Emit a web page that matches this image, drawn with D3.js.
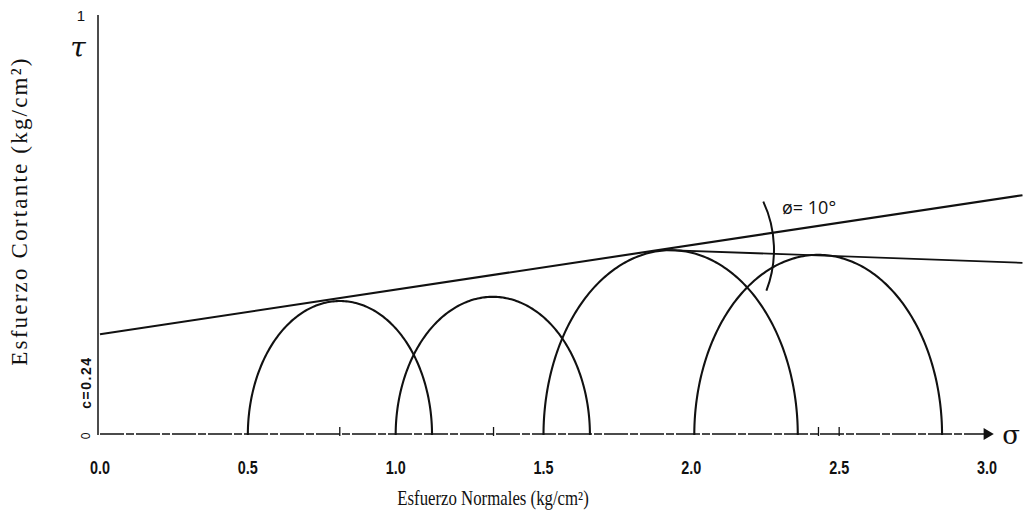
<!DOCTYPE html>
<html>
<head>
<meta charset="utf-8">
<script src="https://cdn.jsdelivr.net/npm/d3@7"></script>
<style>
  html, body { margin: 0; padding: 0; background: #fff; }
  svg { display: block; }
</style>
</head>
<body>
<svg id="chart" width="1023" height="518"></svg>
<script>
// Mohr circles from the triaxial tests (kg/cm²)
const sigma3 = [0.50, 1.00, 1.50, 2.01];      // minor principal stress
const sigma1 = [1.123, 1.657, 2.36, 2.848];   // major principal stress
const tauTop = [0.319, 0.329, 0.440, 0.429];  // apex height of each drawn circle

// Failure envelope: cohesion and friction angle
const cohesion = 0.24;
const envEnd = { sigma: 3.12, tau: 0.571 };
// Second line from the apex of circle 3 to the right margin
const lowerLine = [{ sigma: 1.894, tau: 0.441 }, { sigma: 3.12, tau: 0.41 }];

const xTicks = [0.0, 0.5, 1.0, 1.5, 2.0, 2.5, 3.0];
const xMarks = [0.811, 1.331, 2.43, 2.5];

const svg = d3.select("#chart");
const x = d3.scaleLinear().domain([0, 3]).range([100, 987]);
const y = d3.scaleLinear().domain([0, 1]).range([435, 15]);
const ink = "#111";

// Axes
svg.append("line")
  .attr("x1", x(0) - 2).attr("x2", x(0) - 2)
  .attr("y1", y(1)).attr("y2", y(0))
  .attr("stroke", ink).attr("stroke-width", 1.5);

svg.append("line")
  .attr("x1", x(0)).attr("x2", x(2.99))
  .attr("y1", y(0) - 1).attr("y2", y(0) - 1)
  .attr("stroke", ink).attr("stroke-width", 1.3)
  .attr("stroke-dasharray", "24 2 8 2");

svg.append("path")
  .attr("d", d3.symbol(d3.symbolTriangle, 60)())
  .attr("transform", `translate(${x(3.0)},${y(0) - 1}) rotate(90)`)
  .attr("fill", ink);

// x tick labels (narrow bold figures)
svg.append("g").selectAll("text").data(xTicks).join("text")
  .attr("transform", d => `translate(${x(d)},474) scale(0.8,1)`)
  .attr("text-anchor", "middle")
  .attr("font-family", "'Liberation Sans', Arial, sans-serif")
  .attr("font-size", 18)
  .attr("font-weight", "bold")
  .attr("fill", ink)
  .text(d => d.toFixed(1));

// small marks on the sigma axis at the circle centres
svg.append("g").selectAll("line").data(xMarks).join("line")
  .attr("x1", d => x(d)).attr("x2", d => x(d))
  .attr("y1", y(0) - 8).attr("y2", y(0) + 1)
  .attr("stroke", ink).attr("stroke-width", 1.3);

// y top label
svg.append("text")
  .attr("x", 81).attr("y", 21)
  .attr("text-anchor", "middle")
  .attr("font-family", "'Liberation Sans', Arial, sans-serif")
  .attr("font-size", 15)
  .attr("fill", ink)
  .text("1");

// Mohr circles drawn as half ellipses through the scales
const circleLine = d3.line().x(p => x(p[0])).y(p => y(p[1]));
const circles = sigma3.map((s3, i) => {
  const c = (s3 + sigma1[i]) / 2, r = (sigma1[i] - s3) / 2, h = tauTop[i];
  return d3.range(0, 181).map(a => {
    const t = Math.PI - a * Math.PI / 180;
    return [c + r * Math.cos(t), h * Math.sin(t)];
  });
});
svg.append("g").selectAll("path").data(circles).join("path")
  .attr("d", circleLine)
  .attr("fill", "none")
  .attr("stroke", ink)
  .attr("stroke-width", 2.1);

// Failure envelope and lower line
svg.append("line")
  .attr("x1", x(0)).attr("y1", y(cohesion))
  .attr("x2", x(envEnd.sigma)).attr("y2", y(envEnd.tau))
  .attr("stroke", ink).attr("stroke-width", 2.1);

svg.append("line")
  .attr("x1", x(lowerLine[0].sigma)).attr("y1", y(lowerLine[0].tau))
  .attr("x2", x(lowerLine[1].sigma)).attr("y2", y(lowerLine[1].tau))
  .attr("stroke", ink).attr("stroke-width", 1.8);

// angle arc between the two lines
const cx = x(lowerLine[0].sigma), cy = y(lowerLine[0].tau);
svg.append("path")
  .attr("d", d3.arc()({ innerRadius: 114, outerRadius: 114, startAngle: 65 * Math.PI / 180, endAngle: 111 * Math.PI / 180 }))
  .attr("transform", `translate(${cx},${cy})`)
  .attr("fill", "none")
  .attr("stroke", ink)
  .attr("stroke-width", 2);

svg.append("text")
  .attr("x", 782).attr("y", 214)
  .attr("font-family", "'Open Sans', sans-serif")
  .attr("font-size", 18)
  .attr("fill", ink)
  .text("ø= 10°");

// Greek symbols for the axes
svg.append("text")
  .attr("x", 78).attr("y", 57)
  .attr("text-anchor", "middle")
  .attr("font-family", "'DejaVu Serif', serif")
  .attr("font-style", "italic")
  .attr("font-size", 28)
  .attr("fill", ink)
  .text("τ");

svg.append("text")
  .attr("x", 1011).attr("y", 444)
  .attr("text-anchor", "middle")
  .attr("font-family", "'DejaVu Serif', serif")
  .attr("font-size", 26)
  .attr("fill", ink)
  .text("σ");

// cohesion note along the y axis
svg.append("text")
  .attr("transform", `translate(91,${y(cohesion / 2) - 2}) rotate(-90)`)
  .attr("text-anchor", "middle")
  .attr("font-family", "'Liberation Sans', Arial, sans-serif")
  .attr("font-size", 14)
  .attr("font-weight", "bold")
  .attr("letter-spacing", 1.5)
  .attr("fill", ink)
  .text("c=0.24");

svg.append("text")
  .attr("transform", `translate(90,${y(0) + 1}) rotate(-90)`)
  .attr("text-anchor", "middle")
  .attr("font-family", "'Liberation Sans', Arial, sans-serif")
  .attr("font-size", 12)
  .attr("fill", ink)
  .text("0");

// Axis titles
svg.append("text")
  .attr("transform", "translate(27,211) rotate(-90)")
  .attr("text-anchor", "middle")
  .attr("font-family", "'Liberation Serif', 'Times New Roman', serif")
  .attr("font-size", 23)
  .attr("letter-spacing", 2.2)
  .attr("fill", ink)
  .text("Esfuerzo Cortante  (kg/cm²)");

svg.append("text")
  .attr("transform", "translate(493,505) scale(0.84,1)")
  .attr("text-anchor", "middle")
  .attr("font-family", "'Liberation Serif', 'Times New Roman', serif")
  .attr("font-size", 20)
  .attr("fill", ink)
  .text("Esfuerzo Normales (kg/cm²)");
</script>
</body>
</html>
